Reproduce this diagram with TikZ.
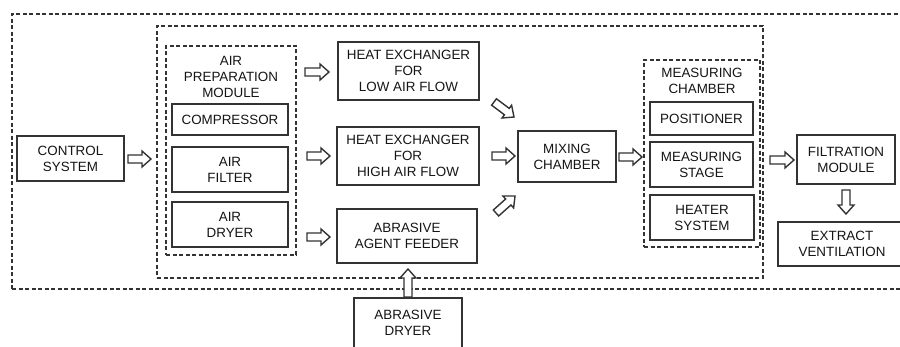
\documentclass[tikz,border=0pt]{standalone}
\usepackage{fontspec}
\setmainfont{Liberation Sans}
\usetikzlibrary{calc}
\definecolor{linec}{HTML}{333333}
\definecolor{txt}{HTML}{151515}
\tikzset{
  box/.style={draw=linec, line width=1.3pt, align=center, inner sep=0pt, text=txt},
  thickbox/.style={box, line width=2.8pt},
  dbox/.style={draw=linec, line width=1.2pt, dash pattern=on 4pt off 2.5pt, inner sep=0pt},
  lbl/.style={align=center, inner sep=0pt, text=txt},
  fat/.style={draw=linec, line width=1.4pt, fill=white, line join=miter,
    to path={let \p1=(\tikztostart), \p2=(\tikztotarget), \n1={atan2(\y2-\y1,\x2-\x1)} in
      ($(\p1)+({\n1+90}:4pt)$) -- ($(\p2)!9pt!(\p1)+({\n1+90}:4pt)$)
      -- ($(\p2)!9pt!(\p1)+({\n1+90}:8pt)$) -- (\p2)
      -- ($(\p2)!9pt!(\p1)+({\n1-90}:8pt)$) -- ($(\p2)!9pt!(\p1)+({\n1-90}:4pt)$)
      -- ($(\p1)+({\n1-90}:4pt)$) -- cycle}}
}
\begin{document}
\begin{tikzpicture}[x=1pt,y=-1pt,font=\fontsize{13.4}{16}\selectfont]
\useasboundingbox (0,0) rectangle (900,347);
\clip (0,0) rectangle (900,347);
\fill[white] (0,0) rectangle (900,347);

% dashed containers
\node[dbox, minimum width=900pt, minimum height=275pt] (outer) at (462,151.5) {};
\node[dbox, minimum width=606pt, minimum height=252pt] (midbox) at (460,152) {};
\node[dbox, minimum width=130pt, minimum height=209pt] (prepbox) at (231,150.5) {};
\node[dbox, minimum width=116pt, minimum height=187pt] (measbox) at (702,153.5) {};

% titles
\node[lbl] (preptitle) at (231,77) {AIR\\PREPARATION\\MODULE};
\node[lbl] (meastitle) at (702,81) {MEASURING\\CHAMBER};

% boxes
\node[box, minimum width=107pt, minimum height=45pt] (ctrl) at (70.5,158.5) {CONTROL\\SYSTEM};
\node[box, minimum width=116pt, minimum height=31pt] (comp) at (230,119.5) {COMPRESSOR};
\node[box, minimum width=116pt, minimum height=45pt] (filter) at (230,169.5) {AIR\\FILTER};
\node[box, minimum width=116pt, minimum height=45pt] (dryer) at (230,224.5) {AIR\\DRYER};
\node[box, minimum width=141pt, minimum height=58pt] (hel) at (408.5,71) {HEAT EXCHANGER\\FOR\\LOW AIR FLOW};
\node[box, minimum width=142pt, minimum height=58pt] (heh) at (408,156) {HEAT EXCHANGER\\FOR\\HIGH AIR FLOW};
\node[thickbox, minimum width=140pt, minimum height=54pt] (feeder) at (407,236) {ABRASIVE\\AGENT FEEDER};
\node[box, minimum width=98pt, minimum height=51pt] (mix) at (567,156.5) {MIXING\\CHAMBER};
\node[box, minimum width=103pt, minimum height=33pt] (pos) at (701.5,118.5) {POSITIONER};
\node[box, minimum width=103pt, minimum height=45pt] (stage) at (701.5,164.5) {MEASURING\\STAGE};
\node[box, minimum width=104pt, minimum height=45pt] (heater) at (702,217.5) {HEATER\\SYSTEM};
\node[box, minimum width=98pt, minimum height=49pt] (filt) at (846,159.5) {FILTRATION\\MODULE};
\node[box, minimum width=128pt, minimum height=44pt] (vent) at (842,244) {EXTRACT\\VENTILATION};
\node[box, minimum width=108pt, minimum height=50pt] (adry) at (408,323) {ABRASIVE\\DRYER};

% arrow end points
\coordinate (a1s) at (128,159);  \coordinate (a1e) at (151,159);
\coordinate (a2s) at (305,72);   \coordinate (a2e) at (329,72);
\coordinate (a3s) at (307,156);  \coordinate (a3e) at (330,156);
\coordinate (a4s) at (307,237);  \coordinate (a4e) at (330,237);
\coordinate (a5s) at (494,102);  \coordinate (a5e) at (514,117);
\coordinate (a6s) at (492,156);  \coordinate (a6e) at (515,156);
\coordinate (a7s) at (496,213);  \coordinate (a7e) at (515,196);
\coordinate (a8s) at (619,157);  \coordinate (a8e) at (642,157);
\coordinate (a9s) at (770,160);  \coordinate (a9e) at (794,160);
\coordinate (a10s) at (846,190); \coordinate (a10e) at (846,214);
\coordinate (a11s) at (408,297); \coordinate (a11e) at (408,269);

\draw[fat] (a1s) to (a1e);
\draw[fat] (a2s) to (a2e);
\draw[fat] (a3s) to (a3e);
\draw[fat] (a4s) to (a4e);
\draw[fat] (a5s) to (a5e);
\draw[fat] (a6s) to (a6e);
\draw[fat] (a7s) to (a7e);
\draw[fat] (a8s) to (a8e);
\draw[fat] (a9s) to (a9e);
\draw[fat] (a10s) to (a10e);
\draw[fat] (a11s) to (a11e);
\end{tikzpicture}
\end{document}
